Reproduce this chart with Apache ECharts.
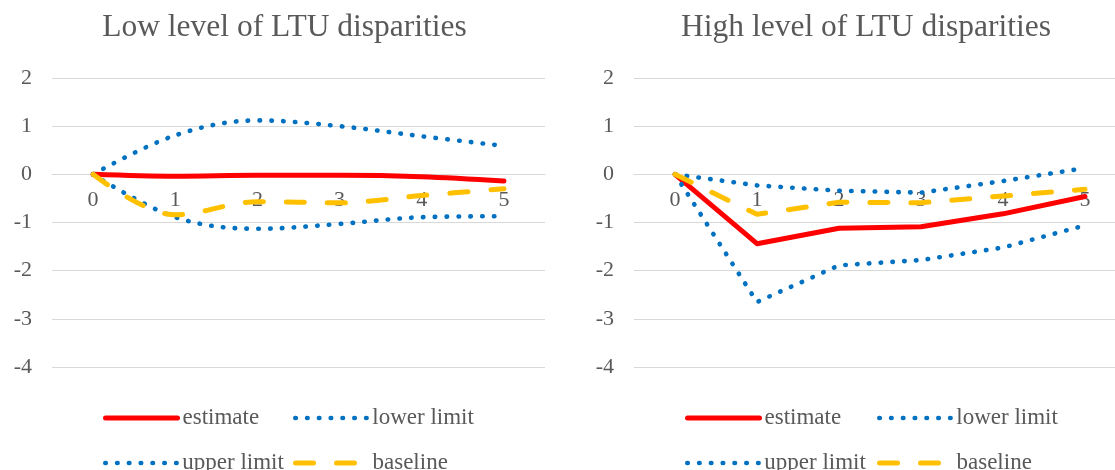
<!DOCTYPE html>
<html>
<head>
<meta charset="utf-8">
<script src="https://cdn.jsdelivr.net/npm/echarts@6/dist/echarts.min.js"></script>
<style>
  html, body { margin: 0; padding: 0; background: #fff; overflow: hidden; width: 1115px; height: 470px; }
  #chart { width: 1126px; height: 470px; }
</style>
</head>
<body>
<div id="chart"></div>
<script>
// Horizon (periods after the shock)
const periods = ['0', '1', '2', '3', '4', '5'];
const yTicks = [-4, -3, -2, -1, 0, 1, 2];

const panelTitles = ['Low level of LTU disparities', 'High level of LTU disparities'];
const seriesNames = ['estimate', 'lower limit', 'upper limit', 'baseline'];

// Low level of LTU disparities
const lowEstimate = [0, -0.04, -0.02, -0.02, -0.05, -0.14];
const lowLower    = [0, -0.89, -1.13, -1.03, -0.89, -0.87];
const lowUpper    = [0, 0.81, 1.12, 1.00, 0.79, 0.59];
const lowBaseline = [0, -0.84, -0.57, -0.59, -0.44, -0.30];

// High level of LTU disparities
const highEstimate = [0, -1.44, -1.12, -1.09, -0.82, -0.46];
const highLower    = [0, -2.65, -1.89, -1.78, -1.52, -1.06];
const highUpper    = [0, -0.23, -0.34, -0.38, -0.14, 0.13];
const highBaseline = [0, -0.83, -0.58, -0.59, -0.45, -0.31];

const FONT = "'Liberation Serif', 'Times New Roman', serif";
const TEXT = '#595959';
const GRID = '#D9D9D9';

const styles = {
  'estimate':    { color: '#FF0000', width: 5,   type: 'solid',  cap: 'round', join: 'round' },
  'lower limit': { color: '#0070C0', width: 4.6, type: [0.5, 11.3], cap: 'round', join: 'round' },
  'upper limit': { color: '#0070C0', width: 4.6, type: [0.5, 11.3], cap: 'round', join: 'round' },
  'baseline':    { color: '#FFC000', width: 5,   type: [18, 23], cap: 'round', join: 'round' }
};

const GRID_TOP = 78, GRID_HEIGHT = 289;
const yMin = yTicks[0], yMax = yTicks[yTicks.length - 1];
// the category axis sits on the zero line
const zeroOffset = -GRID_HEIGHT * (0 - yMin) / (yMax - yMin);

const panels = [
  { values: [lowEstimate, lowLower, lowUpper, lowBaseline], smooth: 0.35, left: 52, width: 493, titleX: 284.5, legendX: [103, 293] },
  { values: [highEstimate, highLower, highUpper, highBaseline], smooth: false, left: 634, width: 492, titleX: 866, legendX: [685, 877] }
];

const option = {
  animation: false,
  backgroundColor: '#fff',
  title: [],
  grid: [],
  xAxis: [],
  yAxis: [],
  series: [],
  legend: []
};

panels.forEach((p, i) => {
  option.title.push({
    text: panelTitles[i],
    left: p.titleX, top: 28, padding: 0,
    textAlign: 'center', textVerticalAlign: 'middle',
    textStyle: { fontFamily: FONT, fontSize: 31.5, fontWeight: 'normal', color: TEXT }
  });
  option.grid.push({ left: p.left, width: p.width, top: GRID_TOP, height: GRID_HEIGHT, containLabel: false });
  option.xAxis.push({
    type: 'category', gridIndex: i, data: periods, boundaryGap: true,
    position: 'bottom', offset: zeroOffset,
    axisTick: { show: false },
    axisLine: { onZero: false, lineStyle: { color: GRID, width: 1 } },
    axisLabel: { margin: 15, fontFamily: FONT, fontSize: 22, color: TEXT }
  });
  option.yAxis.push({
    type: 'value', gridIndex: i,
    min: yMin, max: yMax, interval: 1,
    axisLine: { show: false }, axisTick: { show: false },
    splitLine: { lineStyle: { color: GRID, width: 1 } },
    axisLabel: { margin: 20, fontFamily: FONT, fontSize: 22, color: TEXT }
  });
  seriesNames.forEach((name, k) => {
    option.series.push({
      name, type: 'line', xAxisIndex: i, yAxisIndex: i,
      data: p.values[k], symbol: 'none', smooth: p.smooth,
      itemStyle: { color: styles[name].color },
      lineStyle: Object.assign({}, styles[name]),
      z: 2 + k
    });
  });
  // legend laid out in two rows of two entries
  const rows = [406, 451];
  seriesNames.forEach((name, k) => {
    option.legend.push({
      data: [name],
      left: p.legendX[k % 2], top: rows[Math.floor(k / 2)],
      padding: 0, itemWidth: 72, itemHeight: 24, selectedMode: false,
      itemStyle: { color: 'rgba(0,0,0,0)', borderWidth: 0, opacity: 0 },
      lineStyle: Object.assign({}, styles[name]),
      textStyle: { fontFamily: FONT, fontSize: 23, color: TEXT, lineHeight: 24 }
    });
  });
});

const chart = echarts.init(document.getElementById('chart'), null, { renderer: 'canvas' });
chart.setOption(option);
</script>
</body>
</html>
